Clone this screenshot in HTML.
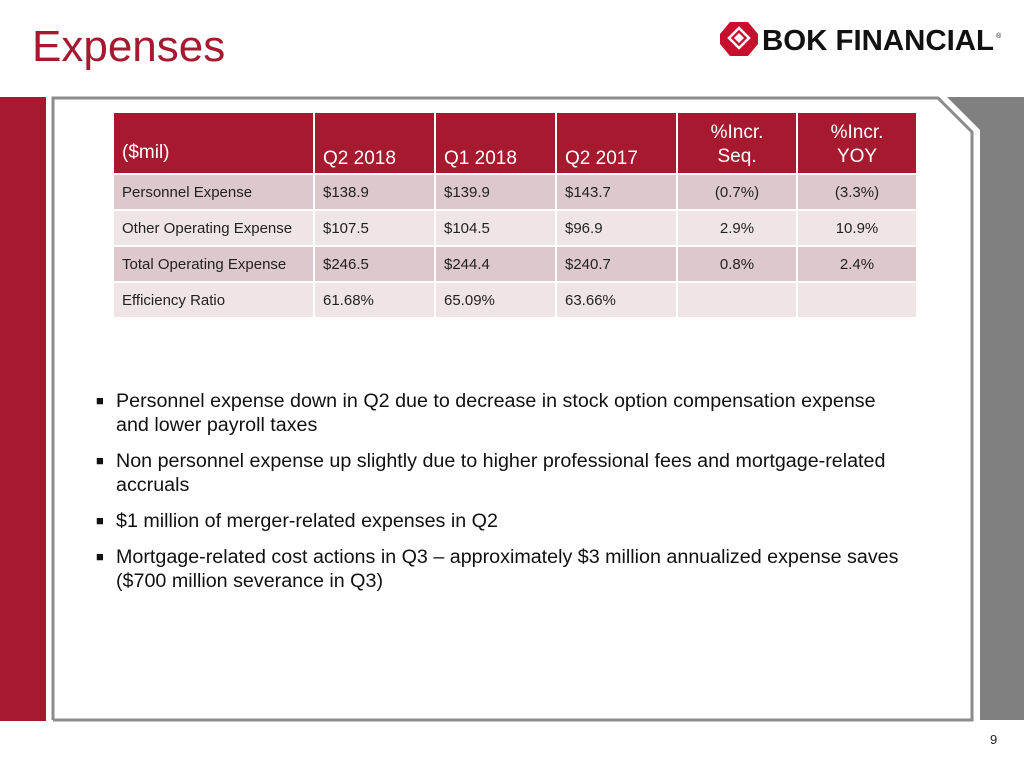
<!DOCTYPE html>
<html><head><meta charset="utf-8"><style>
body{margin:0;width:1024px;height:768px;position:relative;background:#fff;font-family:"Liberation Sans",Arial,sans-serif;overflow:hidden}
.abs{position:absolute}
table{border-collapse:collapse;position:absolute;left:112px;top:113px;table-layout:fixed}
td,th{border:2px solid #fff;padding:0 0 0 8px;font-size:15px;color:#222;height:34px;font-weight:normal;text-align:left}
th{background:#a6192e;color:#fff;font-size:19px;height:52px;vertical-align:bottom;padding-bottom:2px;border-top:none;line-height:24px}
tr.o td{background:#ddc9cb} tr.e td{background:#efe5e6}
td.c,th.c{text-align:center;padding:0}
.b{position:absolute;left:96px;font-size:19.7px;color:#111;line-height:24px;width:900px}
.b span{position:absolute;left:0;font-size:13px}
.b div{margin-left:20px}
</style></head><body>
<div class="abs" style="left:32px;top:22px;font-size:44px;color:#a6192e">Expenses</div>
<svg class="abs" style="left:718px;top:16px" width="290" height="44">
<polygon points="12,6 30,6 40,18 40,28 30,40 12,40 2,28 2,18" fill="#c8102e"/>
<polygon points="21,12 31,22 21,32 11,22" fill="none" stroke="#fff" stroke-width="2.5"/>
<polygon points="21,17 26,22 21,27 16,22" fill="#fff"/>
<text x="44" y="34" font-family="Liberation Sans" font-weight="bold" font-size="29" fill="#111" textLength="232" lengthAdjust="spacingAndGlyphs">BOK FINANCIAL</text>
<text x="278" y="22" font-size="7" fill="#111">®</text>
</svg>
<div class="abs" style="left:0;top:97px;width:46px;height:624px;background:#a6192e"></div>
<svg class="abs" style="left:0;top:0" width="1024" height="768">
<polyline points="53,720 53,98 938,98 972,132 972,720 53,720" fill="none" stroke="#8c8c8c" stroke-width="3"/>
<polygon points="947,97 1024,97 1024,720 980,720 980,130" fill="#808080"/>
</svg>
<table>
<colgroup><col style="width:201px"><col style="width:121px"><col style="width:121px"><col style="width:121px"><col style="width:120px"><col style="width:120px"></colgroup>
<tr><th style="padding-bottom:8px">($mil)</th><th>Q2 2018</th><th>Q1 2018</th><th>Q2 2017</th><th class="c" style="padding-bottom:4px">%Incr.<br>Seq.</th><th class="c" style="padding-bottom:4px">%Incr.<br>YOY</th></tr>
<tr class="o"><td>Personnel Expense</td><td>$138.9</td><td>$139.9</td><td>$143.7</td><td class="c">(0.7%)</td><td class="c">(3.3%)</td></tr>
<tr class="e"><td>Other Operating Expense</td><td>$107.5</td><td>$104.5</td><td>$96.9</td><td class="c">2.9%</td><td class="c">10.9%</td></tr>
<tr class="o"><td>Total Operating Expense</td><td>$246.5</td><td>$244.4</td><td>$240.7</td><td class="c">0.8%</td><td class="c">2.4%</td></tr>
<tr class="e"><td>Efficiency Ratio</td><td>61.68%</td><td>65.09%</td><td>63.66%</td><td></td><td></td></tr>
</table>
<div class="b" style="top:389px"><span>■</span><div>Personnel expense down in Q2 due to decrease in stock option compensation expense<br>and lower payroll taxes</div></div>
<div class="b" style="top:449px"><span>■</span><div>Non personnel expense up slightly due to higher professional fees and mortgage-related<br>accruals</div></div>
<div class="b" style="top:509px"><span>■</span><div>$1 million of merger-related expenses in Q2</div></div>
<div class="b" style="top:545px"><span>■</span><div>Mortgage-related cost actions in Q3 – approximately $3 million annualized expense saves<br>($700 million severance in Q3)</div></div>
<div class="abs" style="left:990px;top:732px;font-size:13px;color:#222">9</div>
</body></html>
